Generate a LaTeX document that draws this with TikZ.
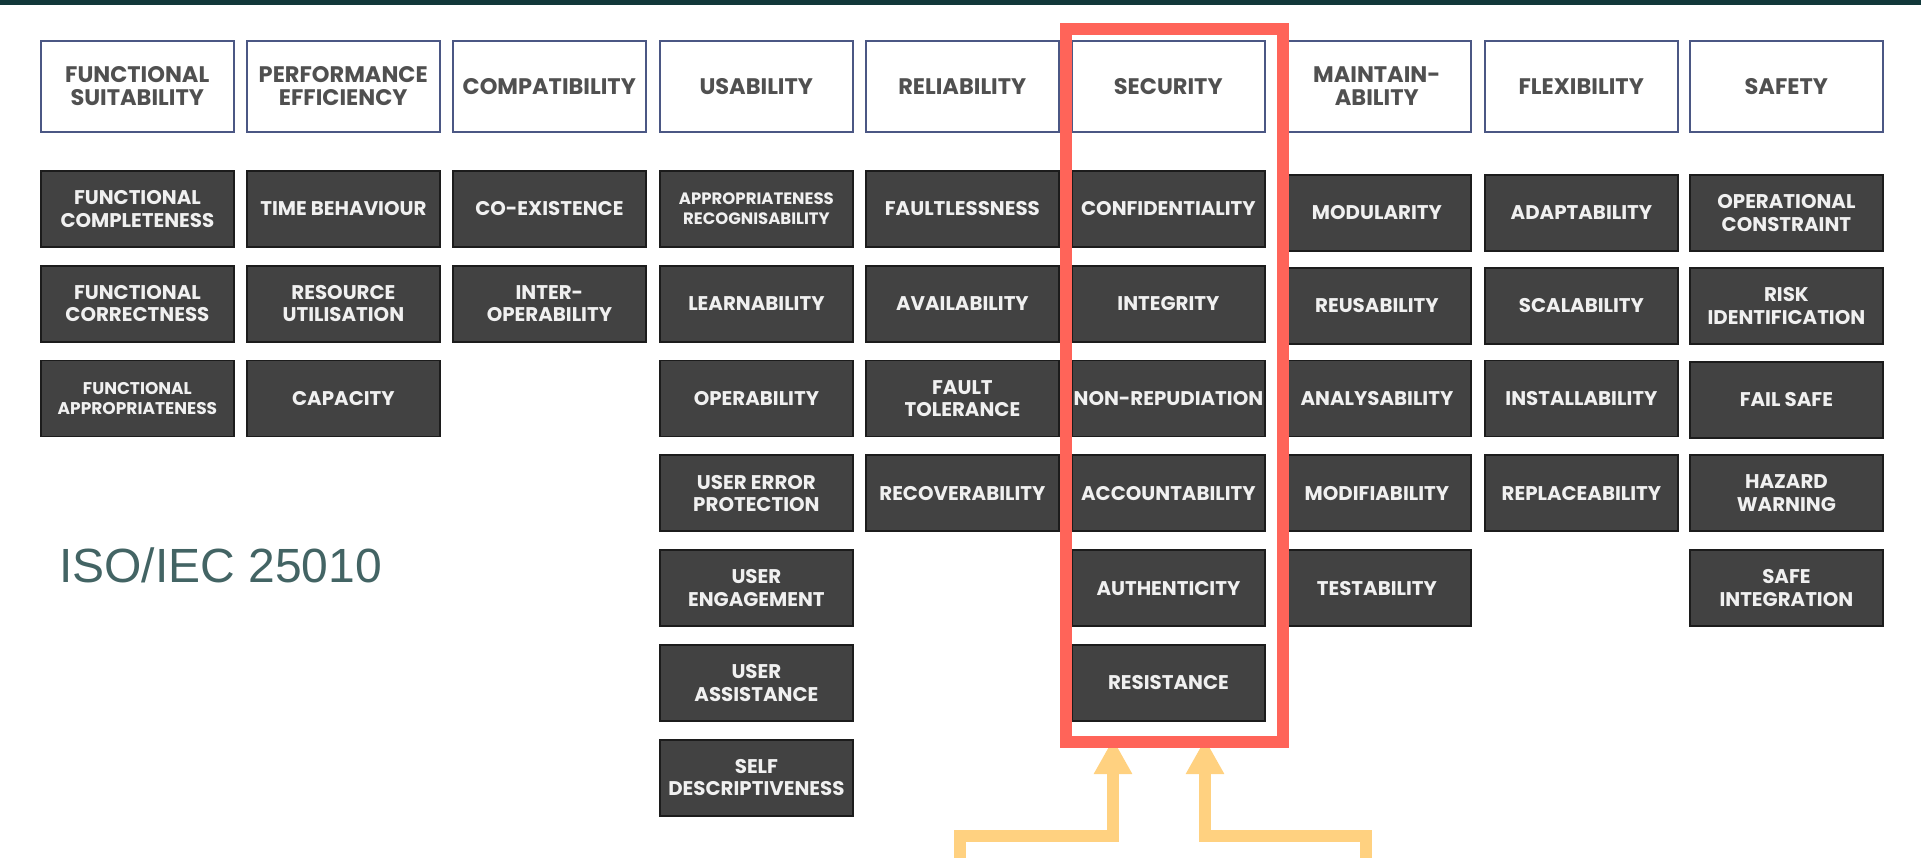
\documentclass[tikz,border=0pt]{standalone}
\usepackage{fontspec}
\setmainfont{Poppins}
\newfontfamily\isofont{Liberation Sans}
\usetikzlibrary{arrows.meta}
\definecolor{topbar}{HTML}{12383A}
\definecolor{hdrborder}{HTML}{4B5784}
\definecolor{hdrtext}{HTML}{505050}
\definecolor{boxfill}{HTML}{424242}
\definecolor{boxborder}{HTML}{1C1C1C}
\definecolor{boxtext}{HTML}{F0F0F0}
\definecolor{redframe}{HTML}{FF6459}
\definecolor{yellowarrow}{HTML}{FFD180}
\definecolor{isotext}{HTML}{436464}
\tikzset{
  hdr/.style={draw=hdrborder, line width=1.5pt, fill=white, minimum width=193pt, minimum height=91pt,
    inner sep=0pt, align=center, font=\bfseries\fontsize{22.5}{22.5}\selectfont, text=hdrtext, anchor=north west},
  sub/.style={draw=boxborder, line width=1.8pt, fill=boxfill, minimum width=193pt, minimum height=76pt,
    inner sep=0pt, align=center, font=\bfseries\fontsize{19.8}{22.5}\selectfont, text=boxtext, anchor=north west},
  smalltxt/.style={font=\bfseries\fontsize{17}{20.5}\selectfont},
  smallertxt/.style={font=\bfseries\fontsize{16.5}{20}\selectfont},
  narrow/.style={minimum width=188pt},
  arrowline/.style={draw=yellowarrow, line width=12pt, line join=miter, -{Triangle[length=35pt,width=36pt]}},
}
\begin{document}
\begin{tikzpicture}[x=1pt,y=-1pt]
\useasboundingbox (0,0) rectangle (1921,857);
\fill[topbar] (0,0) rectangle (1921,4.5);
% headers
\node[hdr] (h1) at (40,40) {FUNCTIONAL\\SUITABILITY};
\node[hdr] (h2) at (246,40) {PERFORMANCE\\EFFICIENCY};
\node[hdr] (h3) at (452,40) {COMPATIBILITY};
\node[hdr] (h4) at (659,40) {USABILITY};
\node[hdr] (h5) at (865,40) {RELIABILITY};
\node[hdr] (h6) at (1071,40) {SECURITY};
\node[hdr,narrow] (h7) at (1282,40) {MAINTAIN-\\ABILITY};
\node[hdr] (h8) at (1484,40) {FLEXIBILITY};
\node[hdr] (h9) at (1689,40) {SAFETY};
% column 1
\node[sub] (c1r1) at (40,170) {FUNCTIONAL\\COMPLETENESS};
\node[sub] (c1r2) at (40,264.8) {FUNCTIONAL\\CORRECTNESS};
\node[sub,smalltxt] (c1r3) at (40,359.6) {FUNCTIONAL\\APPROPRIATENESS};
% column 2
\node[sub] (c2r1) at (246,170) {TIME BEHAVIOUR};
\node[sub] (c2r2) at (246,264.8) {RESOURCE\\UTILISATION};
\node[sub] (c2r3) at (246,359.6) {CAPACITY};
% column 3
\node[sub] (c3r1) at (452,170) {CO-EXISTENCE};
\node[sub] (c3r2) at (452,264.8) {INTER-\\OPERABILITY};
% column 4
\node[sub,smallertxt] (c4r1) at (659,170) {APPROPRIATENESS\\RECOGNISABILITY};
\node[sub] (c4r2) at (659,264.8) {LEARNABILITY};
\node[sub] (c4r3) at (659,359.6) {OPERABILITY};
\node[sub] (c4r4) at (659,454.4) {USER ERROR\\PROTECTION};
\node[sub] (c4r5) at (659,549.2) {USER\\ENGAGEMENT};
\node[sub] (c4r6) at (659,644) {USER\\ASSISTANCE};
\node[sub] (c4r7) at (659,738.8) {SELF\\DESCRIPTIVENESS};
% column 5
\node[sub] (c5r1) at (865,170) {FAULTLESSNESS};
\node[sub] (c5r2) at (865,264.8) {AVAILABILITY};
\node[sub] (c5r3) at (865,359.6) {FAULT\\TOLERANCE};
\node[sub] (c5r4) at (865,454.4) {RECOVERABILITY};
% column 6
\node[sub] (c6r1) at (1071,170) {CONFIDENTIALITY};
\node[sub] (c6r2) at (1071,264.8) {INTEGRITY};
\node[sub] (c6r3) at (1071,359.6) {NON-REPUDIATION};
\node[sub] (c6r4) at (1071,454.4) {ACCOUNTABILITY};
\node[sub] (c6r5) at (1071,549.2) {AUTHENTICITY};
\node[sub] (c6r6) at (1071,644) {RESISTANCE};
% column 7
\node[sub,narrow] (c7r1) at (1282,174) {MODULARITY};
\node[sub,narrow] (c7r2) at (1282,267) {REUSABILITY};
\node[sub,narrow] (c7r3) at (1282,359.6) {ANALYSABILITY};
\node[sub,narrow] (c7r4) at (1282,454.4) {MODIFIABILITY};
\node[sub,narrow] (c7r5) at (1282,549.2) {TESTABILITY};
% column 8
\node[sub] (c8r1) at (1484,174) {ADAPTABILITY};
\node[sub] (c8r2) at (1484,267) {SCALABILITY};
\node[sub] (c8r3) at (1484,359.6) {INSTALLABILITY};
\node[sub] (c8r4) at (1484,454.4) {REPLACEABILITY};
% column 9
\node[sub] (c9r1) at (1689,174) {OPERATIONAL\\CONSTRAINT};
\node[sub] (c9r2) at (1689,267) {RISK\\IDENTIFICATION};
\node[sub] (c9r3) at (1689,361) {FAIL SAFE};
\node[sub] (c9r4) at (1689,454.4) {HAZARD\\WARNING};
\node[sub] (c9r5) at (1689,549.2) {SAFE\\INTEGRATION};
% title
\node[anchor=base west, inner sep=0pt, font=\isofont\fontsize{48}{48}\selectfont, text=isotext] (iso) at (59,582) {ISO/IEC 25010};
% arrows
\coordinate (la0) at (960,875);
\coordinate (la1) at (960,836);
\coordinate (la2) at (1113,836);
\coordinate (latip) at (1113,739);
\coordinate (ra0) at (1366,875);
\coordinate (ra1) at (1366,836);
\coordinate (ra2) at (1205,836);
\coordinate (ratip) at (1205,739);
\draw[arrowline] (la0) -- (la1) -- (la2) -- (latip);
\draw[arrowline] (ra0) -- (ra1) -- (ra2) -- (ratip);
% red frame
\node[draw=redframe, line width=12pt, minimum width=216.5pt, minimum height=713pt, inner sep=0pt, anchor=north west] (secframe) at (1060,23) {};
\end{tikzpicture}
\end{document}
